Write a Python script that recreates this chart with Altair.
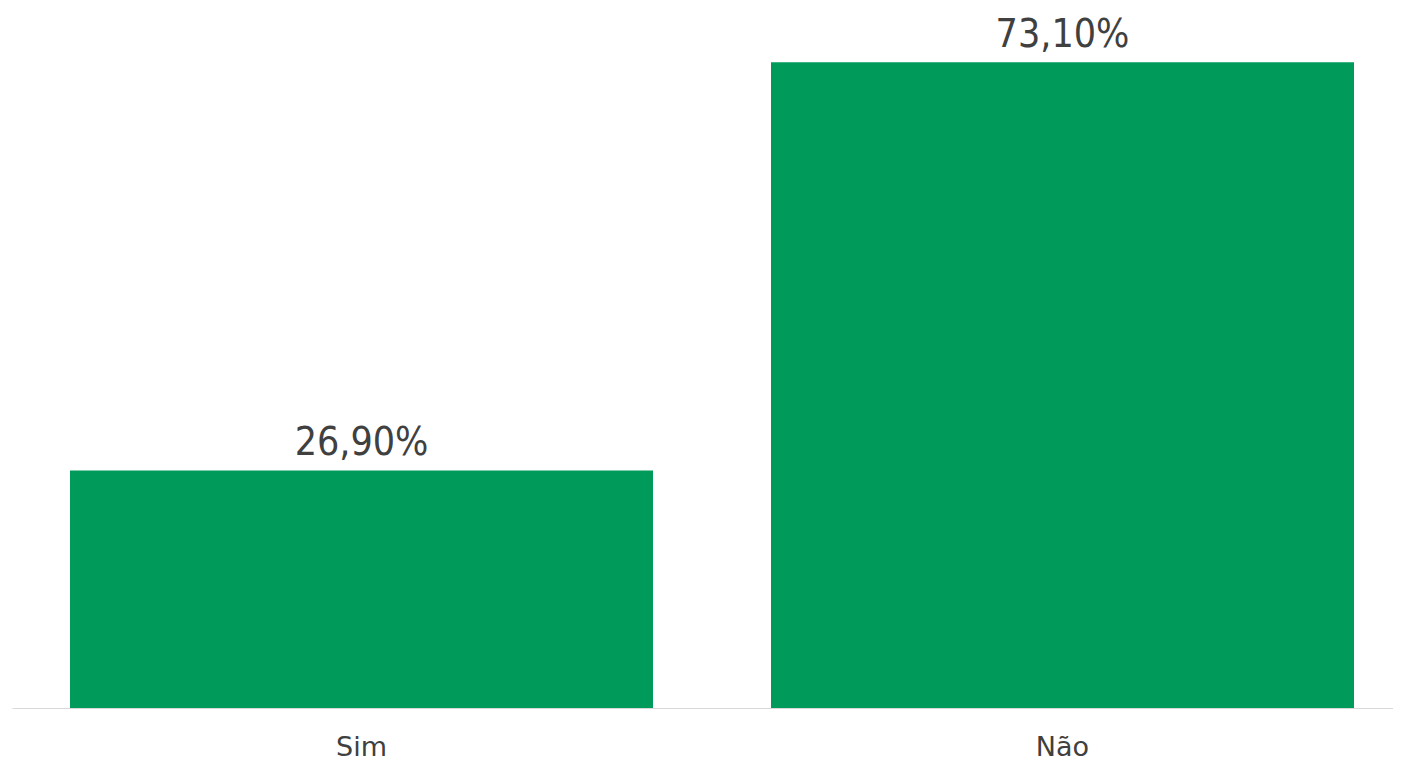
import altair as alt
import pandas as pd

categories = ["Sim", "Não"]
values = [26.9, 73.1]
labels = ["26,90%", "73,10%"]

df = pd.DataFrame({"cat": categories, "val": values, "lab": labels})

x = alt.X("cat:N", sort=categories, title=None,
          scale=alt.Scale(paddingInner=0.1683, paddingOuter=0.0692, align=0.598),
          axis=alt.Axis(labelAngle=0, ticks=False, domainColor="#d9d9d9", domainWidth=1,
                        labelFont="DejaVu Sans", labelFontSize=27, labelColor="#404040",
                        labelPadding=26, grid=False))
y = alt.Y("val:Q", title=None, scale=alt.Scale(domain=[0, 78], nice=False), axis=None)

bars = alt.Chart(df).mark_bar(color="#009A5B").encode(x=x, y=y)
text = alt.Chart(df).mark_text(baseline="alphabetic", dy=-15, font="DejaVu Sans Condensed, DejaVu Sans",
                               fontSize=39, color="#404040").encode(x=x, y=y, text="lab:N")

chart = (bars + text).properties(
    width=1381, height=689,
    padding={"left": 4, "top": 11, "right": 0, "bottom": 56},
    autosize=alt.AutoSizeParams(type="none")
).configure_view(stroke=None)

chart.save("out.html", embed_options={"renderer": "svg", "actions": False})
